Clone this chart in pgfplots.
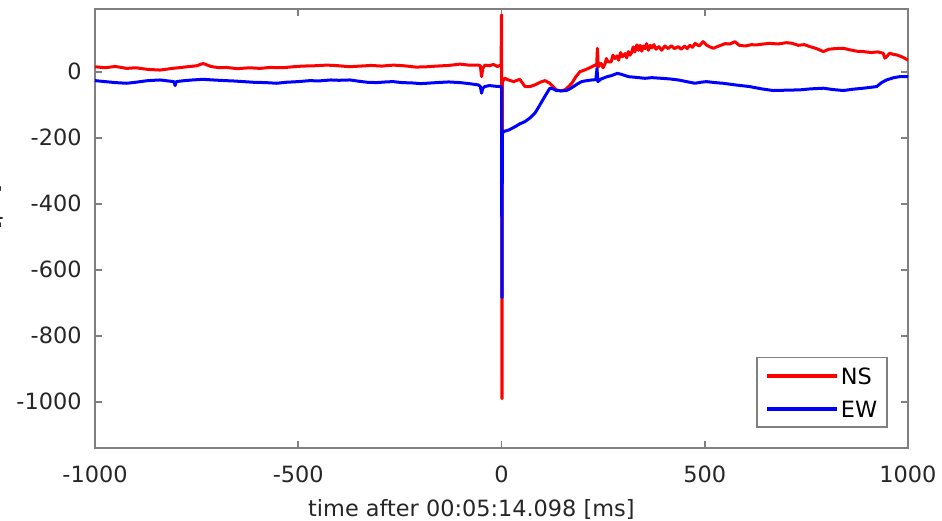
\documentclass[border=0pt]{standalone}
\usepackage{fontspec}
\setmainfont{DejaVu Sans}
\usepackage{pgfplots}
\pgfplotsset{compat=1.18}
\definecolor{axgray}{RGB}{128,128,128}
\definecolor{txtgray}{RGB}{38,38,38}
\begin{document}
\fontsize{11.2}{13.4}\selectfont
\begin{tikzpicture}
\begin{axis}[
  at={(0,0)}, anchor=south west,
  width=406.5pt, height=219.5pt, scale only axis,
  xmin=-1000, xmax=1000, ymin=-1140, ymax=190,
  xtick={-1000,-500,0,500,1000},
  ytick={-1000,-800,-600,-400,-200,0},
  tick align=inside,
  tick pos=both,
  major tick length=3.5pt,
  axis line style={axgray, line width=0.8pt},
  every tick/.style={axgray, line width=0.8pt},
  tick label style={font=\fontsize{11.2}{13.4}\selectfont, text=txtgray},
  /pgf/number format/assume math mode=true,
  /pgf/number format/1000 sep={},
  xticklabel style={yshift=-5pt},
  yticklabel style={xshift=-2.8pt},
  xlabel={time after 00:05:14.098 [ms]},
  xlabel style={at={(axis description cs:0.463,0)}, anchor=base, yshift=-34pt, text=txtgray, font=\fontsize{11.2}{13.4}\selectfont},
  ylabel={B [pT]},
  ylabel style={at={(axis description cs:-0.1182,0.523)}, anchor=base, text=txtgray, font=\fontsize{11.2}{13.4}\selectfont},
  legend style={at={(axis description cs:1,0)}, anchor=south east, xshift=-10pt, yshift=10pt,
    draw=axgray, fill=white, line width=0.8pt, text=black, font=\fontsize{11.2}{13.4}\selectfont,
    inner xsep=4pt, inner ysep=4pt, row sep=6.3pt, nodes={inner sep=1pt, text depth=0pt}},
  legend cell align=left,
  legend image code/.code={\draw[#1, line width=1.8pt] (0pt,0pt) -- (35pt,0pt);},
]
\addplot[red, line width=1.5pt, line join=round] coordinates {
(-1000,15) (-975,12) (-950,16) (-922,10) (-900,12) (-870,7) (-840,5) (-810,10) (-780,14) (-750,18)
(-734,25) (-715,16) (-695,12) (-676,13) (-650,9) (-620,12) (-594,10) (-570,13) (-540,12) (-512,15)
(-490,17) (-460,18) (-430,20) (-400,18) (-375,15) (-348,17) (-320,19) (-295,17) (-266,20) (-240,18)
(-210,14) (-184,15) (-160,17) (-130,19) (-102,23) (-80,20) (-57,20) (-52,18) (-49,-15) (-46,10)
(-41,20) (-30,18) (-20,22) (-10,16) (-1,20) (0,170) (0.5,172) (1,-990) (1.5,-990) (2,-30)
(8,-20) (17,-25) (30,-30) (45,-23) (52,-35) (58,-45) (70,-45) (82,-40) (95,-32) (107,-27)
(119,-35) (127,-45) (135,-55) (145,-58) (156,-55) (165,-45) (173,-35) (183,-15) (193,0) (204,5)
(214,10) (222,15) (230,20) (234,18) (236,71) (238,15) (245,25) (250,12) (255,25) (258,40) (262,30) (270,30)
(274,50) (279,40) (284,48) (288,35) (293,58) (297,45) (304,55) (308,42) (312,61) (316,50) (320,58) (324,75) (328,60) (333,81) (337,65) (341,80)
(345,62) (349,78) (353,70) (357,85) (361,65) (366,80) (370,72) (375,82) (380,68) (387,76) (394,65) (402,78) (410,70) (418,79) (425,70) (435,76) (442,68) (450,78) (457,70) (463,80) (470,74) (476,86)
(486,78) (496,91) (505,80) (513,75) (521,71) (535,78) (550,85) (562,84) (574,91) (585,80)
(600,78) (615,82) (627,81) (645,84) (660,86) (680,84) (701,88) (715,86) (730,80) (745,82)
(759,76) (775,70) (792,61) (805,68) (820,70) (841,71) (858,66) (875,62) (890,61) (910,58)
(925,60) (939,56) (943,41) (947,45) (955,56) (965,52) (972,51) (985,45) (993,40) (1000,35)
};
\addlegendentry{NS}
\addplot[blue, line width=1.5pt, line join=round] coordinates {
(-1000,-27) (-975,-30) (-950,-33) (-922,-35) (-900,-32) (-870,-27) (-840,-25) (-820,-28) (-806,-30) (-803,-42)
(-800,-30) (-780,-27) (-760,-25) (-734,-23) (-710,-25) (-680,-27) (-660,-28) (-635,-30) (-610,-32) (-580,-33)
(-553,-35) (-530,-32) (-500,-30) (-471,-27) (-450,-28) (-420,-25) (-400,-26) (-373,-25) (-350,-29) (-330,-32)
(-307,-33) (-285,-31) (-267,-30) (-245,-33) (-220,-34) (-200,-36) (-184,-35) (-160,-33) (-130,-31) (-102,-33)
(-80,-36) (-57,-40) (-52,-45) (-49,-65) (-46,-50) (-41,-45) (-30,-42) (-15,-44) (-4,-45) (0,-45)
(1,-684) (1.5,-684) (2,-185) (8,-180) (17,-177) (25,-172) (33,-167) (45,-158) (58,-151) (70,-140)
(82,-126) (90,-110) (99,-91) (108,-72) (119,-50) (127,-52) (135,-57) (148,-58) (160,-57) (168,-52)
(177,-45) (187,-37) (197,-30) (210,-27) (222,-25) (232,-24) (235,10) (237,-30) (245,-22) (260,-15)
(270,-12) (285,-5) (295,-8) (312,-15) (330,-17) (353,-20) (370,-18) (394,-20) (415,-22) (435,-25)
(455,-30) (476,-35) (490,-32) (504,-30) (525,-33) (545,-35) (575,-40) (610,-45) (640,-52) (668,-57)
(700,-56) (734,-55) (760,-52) (792,-50) (815,-54) (841,-57) (865,-53) (890,-50) (910,-47) (923,-45)
(935,-33) (947,-25) (965,-18) (980,-15) (1000,-15)
};
\addlegendentry{EW}
\end{axis}
\pgfresetboundingbox
\path (-47.5pt,-36pt) rectangle (423.5pt,224pt);
\end{tikzpicture}
\end{document}
